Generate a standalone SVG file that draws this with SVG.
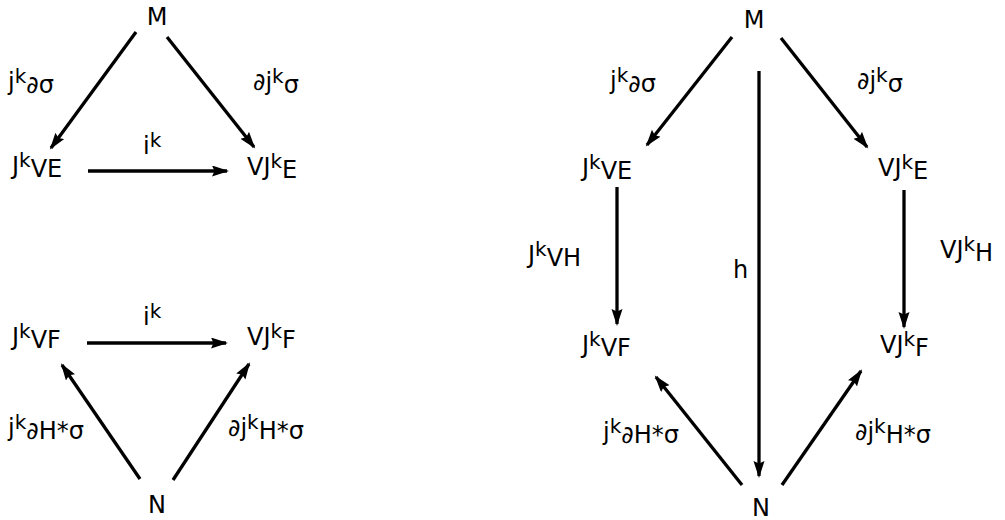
<svg xmlns="http://www.w3.org/2000/svg" width="1005" height="520" viewBox="0 0 1005 520">
<style>
.t{font-family:"DejaVu Sans","Liberation Sans",sans-serif;font-size:24px;fill:#000}
.k{font-size:20px}
.c line{stroke:#000;stroke-width:3.3;marker-end:url(#ah)}
</style>
<defs>
<marker id="ah" markerUnits="userSpaceOnUse" markerWidth="19" markerHeight="12" refX="15" refY="5.5" orient="auto">
<path d="M0,0 L17,5.5 L0,11 L2.5,5.5 z" fill="#000"/>
</marker>
</defs>
<rect width="1005" height="520" fill="#fff"/>
<g class="c" id="connectors">
<line x1="136" y1="32" x2="51" y2="148"/>
<line x1="167" y1="37" x2="254" y2="147"/>
<line x1="88" y1="171" x2="227" y2="171"/>
<line x1="87" y1="343" x2="226" y2="343"/>
<line x1="140" y1="479" x2="62" y2="365"/>
<line x1="173" y1="480" x2="249" y2="364"/>
<line x1="732" y1="37" x2="647" y2="145"/>
<line x1="781" y1="38" x2="867" y2="147"/>
<line x1="759" y1="71" x2="759" y2="476"/>
<line x1="617" y1="187" x2="617" y2="324"/>
<line x1="904" y1="190" x2="904" y2="327"/>
<line x1="742" y1="485" x2="656" y2="377"/>
<line x1="782" y1="485" x2="861" y2="371"/>
</g>
<g id="M1"><text class="t" x="157" y="25" text-anchor="middle">M</text></g>
<g id="JkVE1"><text class="t" x="12" y="174">J<tspan class="k" dy="-7">k</tspan><tspan dy="10">VE</tspan></text></g>
<g id="VJkE1"><text class="t" x="247" y="175">VJ<tspan class="k" dy="-7">k</tspan><tspan dy="10">E</tspan></text></g>
<g id="JkVF1"><text class="t" x="12" y="345">J<tspan class="k" dy="-7">k</tspan><tspan dy="10">VF</tspan></text></g>
<g id="VJkF1"><text class="t" x="247" y="345">VJ<tspan class="k" dy="-7">k</tspan><tspan dy="10">F</tspan></text></g>
<g id="N1"><text class="t" x="157" y="513" text-anchor="middle">N</text></g>
<g id="labels1">
<text class="t" x="8" y="90">j<tspan class="k" dy="-7">k</tspan><tspan dy="10">∂σ</tspan></text>
<text class="t" x="253" y="90">∂j<tspan class="k" dy="-7">k</tspan><tspan dy="10">σ</tspan></text>
<text class="t" x="143" y="154">i<tspan class="k" dy="-7">k</tspan></text>
<text class="t" x="143" y="325">i<tspan class="k" dy="-7">k</tspan></text>
<text class="t" x="8" y="436">j<tspan class="k" dy="-7">k</tspan><tspan dy="10">∂H*σ</tspan></text>
<text class="t" x="228" y="436">∂j<tspan class="k" dy="-7">k</tspan><tspan dy="10">H*σ</tspan></text>
</g>
<g id="M2"><text class="t" x="754" y="28" text-anchor="middle">M</text></g>
<g id="JkVE2"><text class="t" x="582" y="176">J<tspan class="k" dy="-7">k</tspan><tspan dy="10">VE</tspan></text></g>
<g id="VJkE2"><text class="t" x="878" y="176">VJ<tspan class="k" dy="-7">k</tspan><tspan dy="10">E</tspan></text></g>
<g id="JkVF2"><text class="t" x="582" y="353">J<tspan class="k" dy="-7">k</tspan><tspan dy="10">VF</tspan></text></g>
<g id="VJkF2"><text class="t" x="880" y="353">VJ<tspan class="k" dy="-7">k</tspan><tspan dy="10">F</tspan></text></g>
<g id="N2"><text class="t" x="761" y="516" text-anchor="middle">N</text></g>
<g id="labels2">
<text class="t" x="610" y="89">j<tspan class="k" dy="-7">k</tspan><tspan dy="10">∂σ</tspan></text>
<text class="t" x="857" y="89">∂j<tspan class="k" dy="-7">k</tspan><tspan dy="10">σ</tspan></text>
<text class="t" x="528" y="263">J<tspan class="k" dy="-7">k</tspan><tspan dy="10">VH</tspan></text>
<text class="t" x="733" y="278">h</text>
<text class="t" x="940" y="258">VJ<tspan class="k" dy="-7">k</tspan><tspan dy="10">H</tspan></text>
<text class="t" x="603" y="440">j<tspan class="k" dy="-7">k</tspan><tspan dy="10">∂H*σ</tspan></text>
<text class="t" x="855" y="440">∂j<tspan class="k" dy="-7">k</tspan><tspan dy="10">H*σ</tspan></text>
</g>
</svg>
